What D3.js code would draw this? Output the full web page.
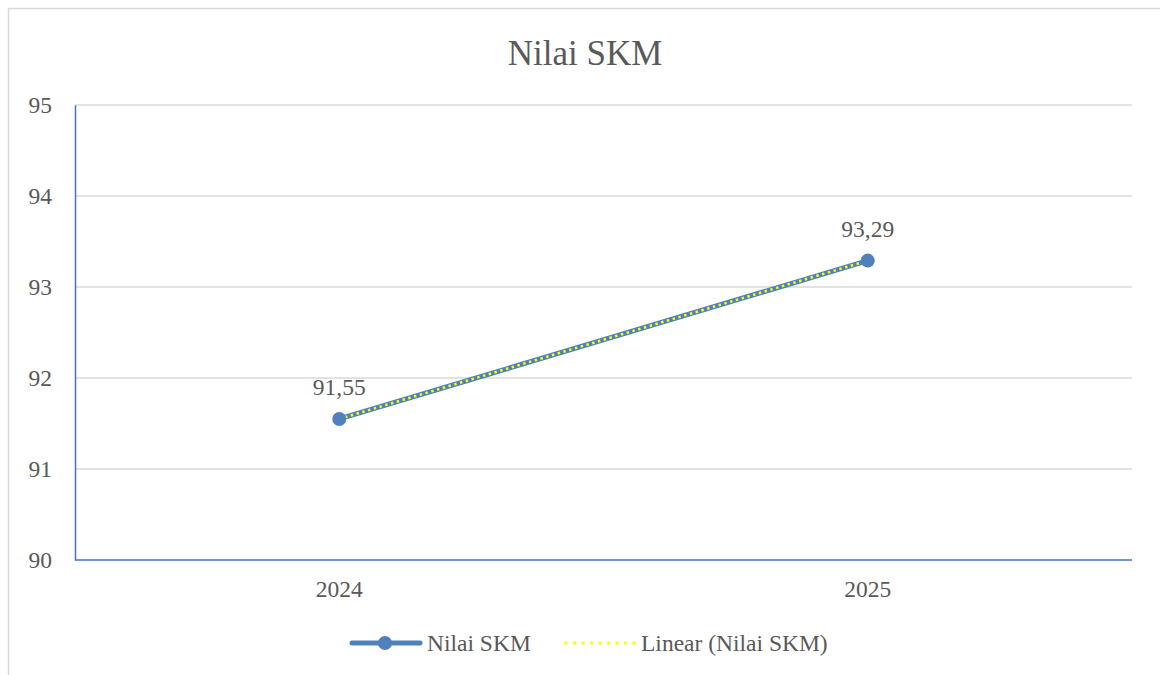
<!DOCTYPE html>
<html><head><meta charset="utf-8">
<script src="https://cdn.jsdelivr.net/npm/d3@7"></script>
<style>body{margin:0;background:#fff}svg{display:block}text{font-family:"Liberation Serif",serif;fill:#595959}</style>
</head><body>
<svg id="c" width="1160" height="675"></svg>
<script>
const categories = ["2024", "2025"];
const values = [91.55, 93.29];
const labels = ["91,55", "93,29"];
const yTicks = [90, 91, 92, 93, 94, 95];
const title = "Nilai SKM";
const seriesName = "Nilai SKM";
const trendName = "Linear (Nilai SKM)";

const FONT = "Liberation Serif";
const FS = 23.5;
const svg = d3.select("#c");
const m = {l: 75, r: 1132, t: 105, b: 560};
svg.append("rect").attr("x", 8.5).attr("y", 8.5).attr("width", 1200).attr("height", 700)
  .attr("fill", "#fff").attr("stroke", "#d9d9d9").attr("stroke-width", 1.5);

const x = d3.scaleBand().domain(categories).range([m.l, m.r]);
const y = d3.scaleLinear().domain([90, 95]).range([m.b, m.t]);

svg.append("g").selectAll("line").data(yTicks.filter(d => d > 90)).join("line")
  .attr("x1", m.l).attr("x2", m.r).attr("y1", d => y(d)).attr("y2", d => y(d))
  .attr("stroke", "#d9d9d9").attr("stroke-width", 1.5);

const yAxis = svg.append("g").attr("transform", `translate(${m.l},0)`)
  .call(d3.axisLeft(y).tickValues(yTicks).tickFormat(d3.format("d")).tickSize(0).tickPadding(23));
yAxis.select(".domain").attr("stroke", "#4472c4").attr("stroke-width", 1.5);
yAxis.selectAll("text").attr("font-size", FS).attr("fill", "#595959").attr("font-family", FONT).attr("dy", "0.3em");

const xAxis = svg.append("g").attr("transform", `translate(0,${m.b})`)
  .call(d3.axisBottom(x).tickSize(0).tickPadding(20));
xAxis.select(".domain").attr("stroke", "#4472c4").attr("stroke-width", 1.5).attr("d", `M${m.l},0H${m.r}`);
xAxis.selectAll("text").attr("font-size", FS).attr("fill", "#595959").attr("font-family", FONT);

const line = d3.line().x((d, i) => x(categories[i]) + x.bandwidth() / 2).y(d => y(d));
svg.append("path").datum(values).attr("d", line).attr("fill", "none")
  .attr("stroke", "#4f81bd").attr("stroke-width", 5).attr("stroke-linecap", "round");

const xs = values.map((d, i) => i + 1);
const mx = d3.mean(xs), my = d3.mean(values);
const slope = d3.sum(xs.map((xi, i) => (xi - mx) * (values[i] - my))) / d3.sum(xs.map(xi => (xi - mx) ** 2));
const icpt = my - slope * mx;
const trend = xs.map(xi => icpt + slope * xi);
svg.append("path").datum(trend).attr("d", line).attr("fill", "none")
  .attr("stroke", "#ffff00").attr("stroke-width", 2.5).attr("stroke-dasharray", "2.5 3.5");

svg.append("g").selectAll("circle").data(values).join("circle")
  .attr("cx", (d, i) => x(categories[i]) + x.bandwidth() / 2).attr("cy", d => y(d))
  .attr("r", 7).attr("fill", "#4f81bd");

svg.append("g").selectAll("text").data(values).join("text")
  .attr("x", (d, i) => x(categories[i]) + x.bandwidth() / 2)
  .attr("y", d => y(d) - 24).attr("text-anchor", "middle").attr("font-size", FS)
  .text((d, i) => labels[i]);

svg.append("text").attr("x", 585).attr("y", 65).attr("text-anchor", "middle")
  .attr("font-size", 35).text(title);

const ly = 643;
svg.append("line").attr("x1", 352).attr("x2", 420).attr("y1", ly).attr("y2", ly)
  .attr("stroke", "#4f81bd").attr("stroke-width", 5).attr("stroke-linecap", "round");
svg.append("circle").attr("cx", 385).attr("cy", ly).attr("r", 7).attr("fill", "#4f81bd");
svg.append("text").attr("x", 427).attr("y", ly + 8).attr("font-size", FS).text(seriesName);
svg.append("line").attr("x1", 566).attr("x2", 634).attr("y1", ly).attr("y2", ly)
  .attr("stroke", "#ffff00").attr("stroke-width", 3.5).attr("stroke-linecap", "round").attr("stroke-dasharray", "0.1 8.4");
svg.append("text").attr("x", 641).attr("y", ly + 8).attr("font-size", FS).text(trendName);
</script>
</body></html>
